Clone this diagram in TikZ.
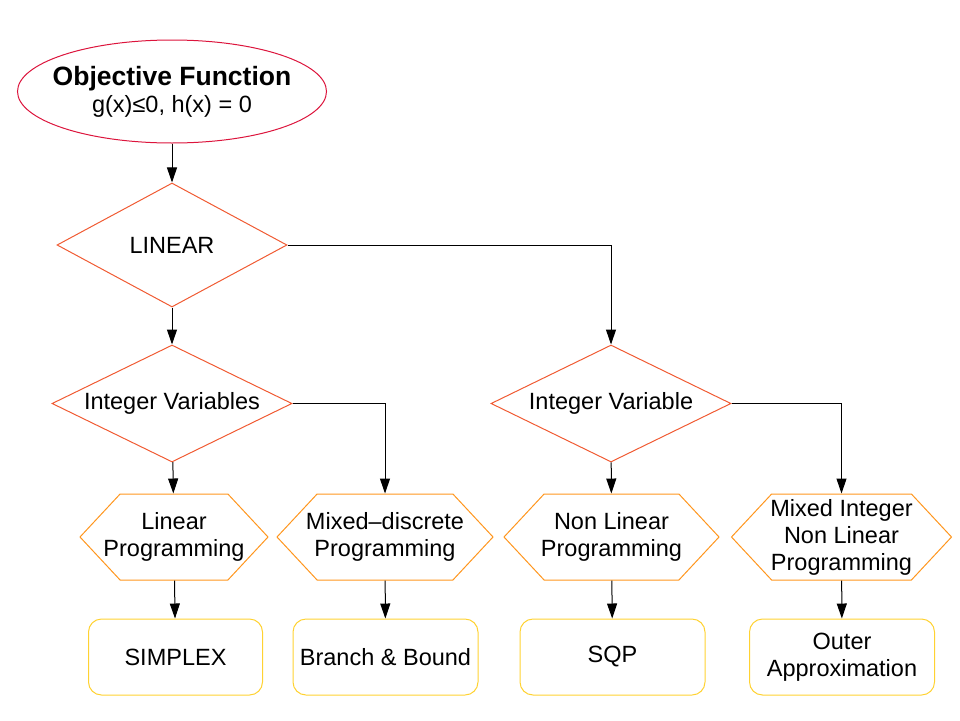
\documentclass[tikz,border=0pt]{standalone}
\usepackage{fontspec}
\setmainfont{Liberation Sans}
\usetikzlibrary{arrows.meta, positioning, shapes.geometric, shapes.symbols}

\definecolor{goalred}{RGB}{220,20,60}
\definecolor{testorange}{RGB}{240,90,50}
\definecolor{hexorange}{RGB}{255,150,30}
\definecolor{boxyellow}{RGB}{255,210,50}

\begin{document}
\begin{tikzpicture}[
    x=1pt, y=-1pt,
    every node/.style={font=\fontsize{23.5}{27}\selectfont, text=black, align=center},
    goal/.style={ellipse, draw=goalred, line width=1pt, minimum width=309pt, minimum height=103pt, inner xsep=-12pt, inner ysep=0pt},
    test/.style={diamond, draw=testorange, line width=1pt, aspect=2, inner sep=0pt, minimum height=117pt, minimum width=240pt},
    method/.style={signal, signal to=east and west, signal pointer angle=94, draw=hexorange, line width=1pt, minimum height=86pt, inner xsep=-40pt, inner ysep=0pt},
    solver/.style={rectangle, rounded corners=13pt, draw=boxyellow, line width=1pt, minimum height=76pt, minimum width=185pt, inner sep=0pt},
    link/.style={->, line width=1pt, >={Triangle[length=15pt,width=10pt]}, draw=black},
]
\useasboundingbox (0,0) rectangle (960,720);

% Define shapes (nodes)
\node[goal] (obj) at (172,91.5) {{\fontsize{26.5}{28}\selectfont\bfseries Objective Function}\\g(x)≤0, h(x) = 0};

\node[test, minimum width=230pt, minimum height=124pt] (lin) at (172,245) {LINEAR};
\node[test] (intvars) at (172,403.5) {Integer Variables};
\node[test] (intvar) at (611,403.5) {Integer Variable};

\node[method, minimum width=188pt] (lp) at (174,537) {Linear\\Programming};
\node[method, minimum width=216pt] (mdp) at (385,537) {Mixed–discrete\\Programming};
\node[method, minimum width=215pt] (nlp) at (611.5,537) {Non Linear\\Programming};
\node[method, minimum width=220pt] (minlp) at (841.5,537) {Mixed Integer\\Non Linear\\Programming};

\node[solver, minimum width=174pt] (simplex) at (175.5,657) {SIMPLEX};
\node[solver] (bb) at (385.5,657) {Branch \& Bound};
\node[solver] (sqp) at (612.5,657) {SQP};
\node[solver] (oa) at (842,657) {Outer\\Approximation};

% Connectors
\draw[link] (obj) -- (lin);
\draw[link] (lin) -- (intvars);
\draw[link] (lin.east) -| (intvar.north);

\draw[link] (intvars) -- (lp);
\draw[link] (intvars.east) -| (mdp.north);
\draw[link] (intvar) -- (nlp);
\draw[link] (intvar.east) -| (minlp.north);

\draw[link] (lp) -- (simplex);
\draw[link] (mdp) -- (bb);
\draw[link] (nlp) -- (sqp);
\draw[link] (minlp) -- (oa);

\end{tikzpicture}
\end{document}
